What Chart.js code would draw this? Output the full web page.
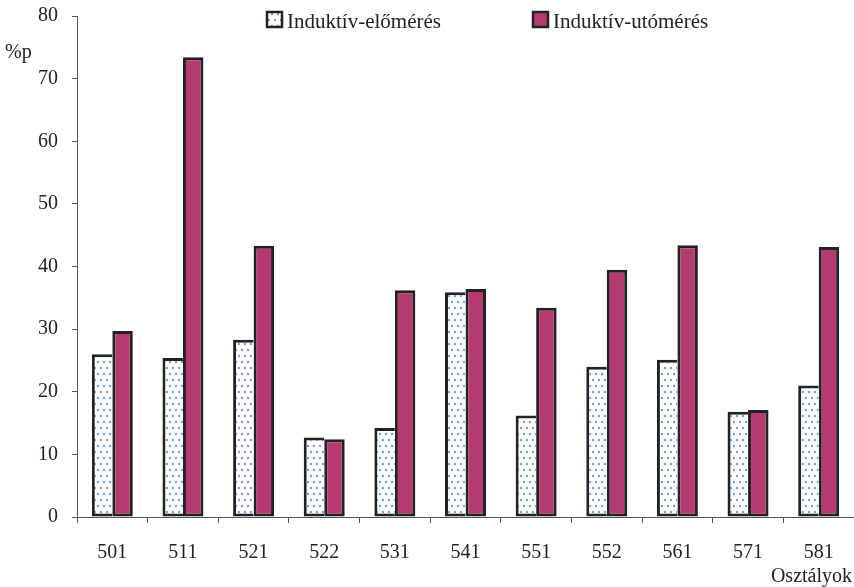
<!DOCTYPE html>
<html>
<head>
<meta charset="utf-8">
<script src="https://cdn.jsdelivr.net/npm/chart.js@4/dist/chart.umd.min.js"></script>
<style>
  html, body { margin: 0; padding: 0; background: #fff; }
  #wrap { width: 854px; height: 587px; }
</style>
</head>
<body>
<div id="wrap"><canvas id="c" width="854" height="587"></canvas></div>
<script>
const classes = ["501", "511", "521", "522", "531", "541", "551", "552", "561", "571", "581"];
const preValues = [26.0, 25.4, 28.3, 12.7, 14.2, 35.9, 16.2, 24.0, 25.1, 16.8, 21.0];
const postValues = [29.7, 73.4, 43.3, 12.4, 36.2, 36.4, 33.4, 39.5, 43.4, 17.1, 43.1];
const seriesNames = ["Induktív-előmérés", "Induktív-utómérés"];
const yTicks = [0, 10, 20, 30, 40, 50, 60, 70, 80];

const serif = "'Liberation Serif', 'DejaVu Serif', serif";

// dotted fill for the pre-test bars
function dotPattern() {
  const p = document.createElement("canvas");
  p.width = 12; p.height = 12;
  const g = p.getContext("2d");
  g.fillStyle = "#ffffff";
  g.fillRect(0, 0, 12, 12);
  g.fillStyle = "#6f9ede";
  [[2, 2], [8, 2], [5, 8], [11, 8]].forEach(function (d) {
    g.beginPath();
    g.arc(d[0], d[1], 1.2, 0, Math.PI * 2);
    g.fill();
  });
  return g.createPattern(p, "repeat");
}
const dots = dotPattern();

const extras = {
  id: "extras",
  afterDraw(chart) {
    const ctx = chart.ctx;
    ctx.save();
    ctx.fillStyle = "#222";
    ctx.textBaseline = "alphabetic";
    ctx.font = "20px " + serif;
    ctx.textAlign = "left";
    ctx.fillText("%p", 5, 58);
    ctx.textAlign = "right";
    ctx.fillText("Osztályok", 852, 582);

    // legend
    const items = [
      { x: 267, fill: chart.data.datasets[0].backgroundColor, text: seriesNames[0] },
      { x: 533, fill: chart.data.datasets[1].backgroundColor, text: seriesNames[1] }
    ];
    ctx.font = "21px " + serif;
    ctx.textAlign = "left";
    items.forEach(function (it) {
      ctx.fillStyle = it.fill;
      ctx.fillRect(it.x, 12, 15, 15);
      ctx.strokeStyle = "#222";
      ctx.lineWidth = 2.5;
      ctx.strokeRect(it.x, 12, 15, 15);
      ctx.fillStyle = "#222";
      ctx.fillText(it.text, it.x + 20, 28);
    });
    ctx.restore();
  }
};

new Chart(document.getElementById("c"), {
  type: "bar",
  data: {
    labels: classes,
    datasets: [
      {
        label: seriesNames[0],
        data: preValues,
        backgroundColor: dots,
        borderColor: "#222222",
        borderWidth: 3,
        borderSkipped: "right"
      },
      {
        label: seriesNames[1],
        data: postValues,
        backgroundColor: "#b53a72",
        borderColor: "#222222",
        borderWidth: 3,
        borderSkipped: false
      }
    ]
  },
  options: {
    responsive: false,
    animation: false,
    layout: { padding: { top: 16, right: 0, left: 0, bottom: 0 } },
    datasets: { bar: { categoryPercentage: 0.58, barPercentage: 1.0 } },
    plugins: {
      legend: { display: false },
      tooltip: { enabled: false }
    },
    scales: {
      x: {
        offset: true,
        afterFit(scale) { scale.height = 70; scale.paddingLeft = 0; scale.paddingRight = 0; },
        grid: {
          offset: true,
          drawOnChartArea: false,
          drawTicks: true,
          tickLength: 6,
          color: "#555"
        },
        border: { color: "#555", width: 1 },
        ticks: {
          color: "#222",
          padding: 18,
          font: { family: serif, size: 20 }
        }
      },
      y: {
        min: 0,
        max: 80,
        afterFit(scale) { scale.width = 77; scale.paddingTop = 0; scale.paddingBottom = 0; },
        afterBuildTicks(scale) { scale.ticks = yTicks.map(function (v) { return { value: v }; }); },
        grid: {
          drawOnChartArea: false,
          drawTicks: true,
          tickLength: 5,
          color: "#555"
        },
        border: { color: "#555", width: 1 },
        ticks: {
          color: "#222",
          padding: 14,
          font: { family: serif, size: 20 }
        }
      }
    }
  },
  plugins: [extras]
});
</script>
</body>
</html>
